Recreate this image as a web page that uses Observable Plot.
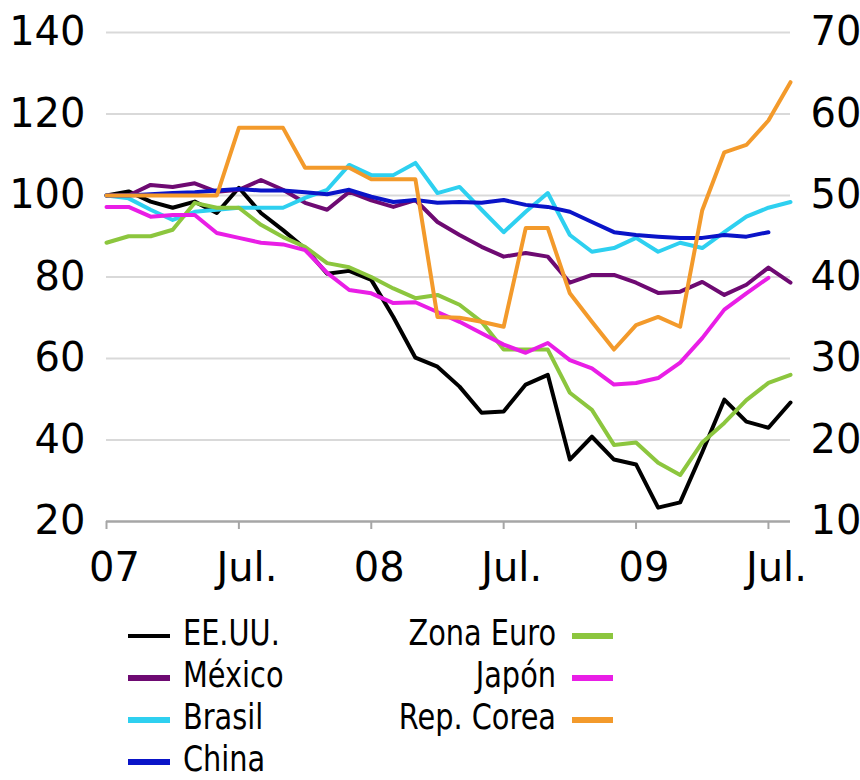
<!DOCTYPE html>
<html>
<head>
<meta charset="utf-8">
<script src="https://cdn.jsdelivr.net/npm/d3@7"></script>
<script src="https://cdn.jsdelivr.net/npm/@observablehq/plot@0.6"></script>
<style>
  html, body { margin: 0; padding: 0; background: #fff; }
  body { width: 860px; height: 780px; position: relative; overflow: hidden;
         font-family: "DejaVu Sans", sans-serif; }
  #chart { position: absolute; left: 0; top: 0; }
  #legend { position: absolute; left: 0; top: 0; }
</style>
</head>
<body>
<div id="chart"></div>
<svg id="legend" width="860" height="780"></svg>
<script>
// Months: Jan 2007 .. Aug 2009 (monthly), index 0..31
const months = ["2007-01","2007-02","2007-03","2007-04","2007-05","2007-06","2007-07","2007-08","2007-09","2007-10","2007-11","2007-12",
                "2008-01","2008-02","2008-03","2008-04","2008-05","2008-06","2008-07","2008-08","2008-09","2008-10","2008-11","2008-12",
                "2009-01","2009-02","2009-03","2009-04","2009-05","2009-06","2009-07","2009-08"];
const tickMonths = ["2007-01","2007-07","2008-01","2008-07","2009-01","2009-07"];
const tickLabels = ["07","Jul.","08","Jul.","09","Jul."];
const leftTicks = [20, 40, 60, 80, 100, 120, 140];

// Left-axis series (index)
const eeuu   = [100, 101, 98.5, 97, 98.5, 95.7, 101.9, 95.7, 91.5, 87, 80.8, 81.5, 79.3, 70.2, 60.2, 58, 53.1, 46.7, 47, 53.6, 56, 35.2, 40.8, 35.2, 34, 23.4, 24.7, 37, 49.9, 44.5, 43, 49.2];
const mexico = [100, 100, 102.6, 102.1, 103, 100.9, 101.4, 103.8, 101.4, 98.2, 96.5, 100.9, 98.8, 97.2, 98.9, 93.5, 90.3, 87.4, 85, 85.9, 85, 78.6, 80.5, 80.5, 78.6, 76.1, 76.4, 78.8, 75.6, 78.1, 82.3, 78.6];
const brasil = [100, 99.3, 96.5, 94, 96, 96.5, 97, 97, 97, 99.4, 101.4, 107.5, 105, 105, 108, 100.6, 102.1, 96.5, 91, 96, 100.6, 90.3, 86.2, 87.1, 89.6, 86.2, 88.4, 87.1, 91, 94.8, 97, 98.4];
const china  = [100, 100, 100.3, 100.6, 100.8, 101.2, 101.6, 101.2, 101.2, 100.8, 100.3, 101.4, 99.7, 98.4, 98.9, 98.2, 98.4, 98.2, 98.9, 97.7, 97.2, 96, 93.5, 91, 90.3, 89.9, 89.6, 89.6, 90.3, 89.9, 91];
// Right-axis series (right scale = left / 2)
const zonaEuro = [44.2, 45, 45, 45.8, 49.1, 48.5, 48.5, 46.4, 44.9, 43.7, 41.7, 41.2, 40, 38.6, 37.4, 37.8, 36.6, 34.5, 31.1, 31.1, 31.1, 25.8, 23.7, 19.4, 19.7, 17.2, 15.7, 19.7, 22.1, 24.9, 27, 28];
const japon    = [48.6, 48.6, 47.4, 47.6, 47.6, 45.4, 44.8, 44.2, 44, 43.3, 40.5, 38.4, 38, 36.8, 36.9, 35.7, 34.5, 33.1, 31.7, 30.7, 31.9, 29.8, 28.8, 26.8, 27, 27.6, 29.5, 32.5, 36, 38, 39.9];
const corea    = [50, 50, 50, 50, 50, 50, 58.3, 58.3, 58.3, 53.4, 53.4, 53.4, 52, 52, 52, 35.1, 35, 34.5, 33.9, 46, 46, 38, 34.5, 31.1, 34.1, 35.1, 33.9, 48.2, 55.3, 56.2, 59.2, 63.9];

const seriesNames  = ["EE.UU.", "México", "Brasil", "China", "Zona Euro", "Japón", "Rep. Corea"];
const seriesColors = ["#000000", "#6e0a72", "#2ed0f0", "#0a14c8", "#8cc63e", "#e91ee6", "#f39a2b"];
const seriesValues = [eeuu, mexico, brasil, china, zonaEuro, japon, corea];
const seriesAxis   = ["left", "left", "left", "left", "right", "right", "right"];

const rows = [];
seriesNames.forEach((name, s) => {
  seriesValues[s].forEach((v, i) => {
    rows.push({name, m: i, v: seriesAxis[s] === "right" ? v * 2 : v});
  });
});
const tickIdx = tickMonths.map(t => months.indexOf(t));

const FONT = '"DejaVu Sans", sans-serif';

const chart = Plot.plot({
  width: 860,
  height: 600,
  marginLeft: 106,
  marginRight: 70,
  marginTop: 32,
  marginBottom: 79,
  style: {fontFamily: FONT, fontSize: "40px", color: "#000", background: "#fff"},
  x: {type: "linear", domain: [0, months.length - 1]},
  y: {domain: [20, 140]},
  color: {domain: seriesNames, range: seriesColors},
  marks: [
    Plot.ruleY(leftTicks.filter(d => d > 20), {stroke: "#d9d9d9", strokeWidth: 2}),
    Plot.ruleY([20], {stroke: "#a6a6a6", strokeWidth: 2.5}),
    Plot.axisX({ticks: tickIdx, tickFormat: () => "", tickSize: 8, stroke: "#a6a6a6", strokeWidth: 2, label: null}),
    Plot.axisX({ticks: tickIdx, tickFormat: (d, i) => tickLabels[i], tickSize: 0, tickPadding: 31,
                fill: "#000", fontSize: 40, dx: 8, label: null}),
    Plot.axisY({ticks: leftTicks, tickSize: 0, tickPadding: 21, fill: "#000", fontSize: 40, label: null}),
    Plot.axisY({anchor: "right", ticks: leftTicks, tickFormat: d => d / 2, tickSize: 0, tickPadding: 20,
                fill: "#000", fontSize: 40, label: null}),
    ...seriesNames.map(name =>
      Plot.line(rows.filter(r => r.name === name), {x: "m", y: "v", stroke: "name", strokeWidth: 4,
                strokeLinejoin: "round", strokeLinecap: "round"})
    )
  ]
});
document.getElementById("chart").appendChild(chart);

// Legend (below the chart); condensed text via horizontal scaling
const color = chart.scale("color");
const lg = d3.select("#legend").style("font-family", FONT);
const leftCol = [0, 1, 2, 3], rightCol = [4, 5, 6];
const baselines = [645, 687, 729, 771];
const FS = 36;
const SX = 0.8;
leftCol.forEach((s, r) => {
  const b = baselines[r];
  lg.append("line").attr("x1", 128).attr("x2", 170).attr("y1", b - 9).attr("y2", b - 9)
    .attr("stroke", color.apply(seriesNames[s])).attr("stroke-width", s === 0 ? 4 : 6);
  lg.append("text").attr("transform", `translate(183,${b}) scale(${SX},1)`)
    .attr("font-size", FS).attr("fill", "#000").text(seriesNames[s]);
});
rightCol.forEach((s, r) => {
  const b = baselines[r];
  lg.append("line").attr("x1", 572).attr("x2", 613).attr("y1", b - 9).attr("y2", b - 9)
    .attr("stroke", color.apply(seriesNames[s])).attr("stroke-width", 6);
  lg.append("text").attr("transform", `translate(556,${b}) scale(${SX},1)`)
    .attr("font-size", FS).attr("text-anchor", "end").attr("fill", "#000").text(seriesNames[s]);
});
</script>
</body>
</html>
